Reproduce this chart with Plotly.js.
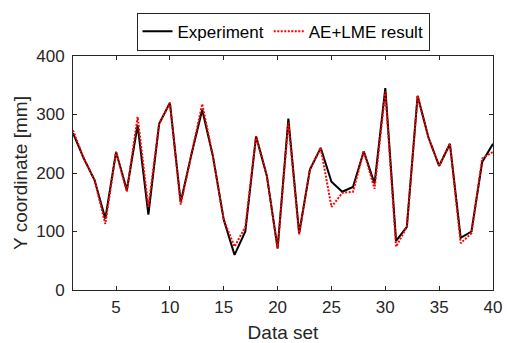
<!DOCTYPE html>
<html>
<head>
<meta charset="utf-8">
<script src="https://cdn.plot.ly/plotly-3.0.1.min.js"></script>
<style>html,body{margin:0;padding:0;background:#fff;}#chart{width:510px;height:343px;}</style>
</head>
<body>
<div id="chart"></div>
<script>
const dataSet = [1,2,3,4,5,6,7,8,9,10,11,12,13,14,15,16,17,18,19,20,21,22,23,24,25,26,27,28,29,30,31,32,33,34,35,36,37,38,39,40];
const experiment = [268,225,188,122,236,171,282,129,284,320,150,232,308,228,120,60,100,263,195,71,293,97,206,243,185,168,176,237,182,345,84,108,332,261,212,250,89,100,219,250];
const aeLme = [273,225,188,113,236,168,296,142,284,320,146,232,318,228,120,74,108,263,195,71,286,95,206,243,142,166,168,237,173,339,74,108,332,261,212,250,80,97,225,236];
const xTicks = [5,10,15,20,25,30,35,40];
const yTicks = [0,100,200,300,400];

const font = 'Liberation Sans, Arial, sans-serif';
const traces = [
  {x: dataSet, y: experiment, type: 'scatter', mode: 'lines', name: 'Experiment',
   line: {color: '#000000', width: 2}},
  {x: dataSet, y: aeLme, type: 'scatter', mode: 'lines', name: 'AE+LME result',
   line: {color: '#ff0000', width: 2, dash: '2px,1.5px'}}
];
const axisCommon = {
  showgrid: false, zeroline: false, showline: true, mirror: 'ticks',
  linecolor: '#262626', linewidth: 1, ticks: 'inside', ticklen: 4, tickcolor: '#262626',
  tickfont: {family: font, size: 17, color: '#262626'}
};
const layout = {
  width: 510, height: 343,
  margin: {l: 73, r: 17, t: 56, b: 53},
  paper_bgcolor: '#ffffff', plot_bgcolor: '#ffffff',
  showlegend: true,
  legend: {orientation: 'h', x: 0.5, xanchor: 'center', y: 1.185, yanchor: 'top',
    bordercolor: '#262626', borderwidth: 1, bgcolor: '#ffffff',
    font: {family: font, size: 17, color: '#000000'}, itemwidth: 30, tracegroupgap: 0},
  xaxis: Object.assign({}, axisCommon, {
    range: [1, 40], tickvals: xTicks, ticktext: xTicks.map(String), ticklabelstandoff: 2,
    title: {text: 'Data set', font: {family: font, size: 19, color: '#262626'}, standoff: 11}
  }),
  yaxis: Object.assign({}, axisCommon, {
    range: [0, 400], tickvals: yTicks, ticktext: yTicks.map(String), ticklabelstandoff: 4,
    title: {text: 'Y coordinate [mm]', font: {family: font, size: 19, color: '#262626'}, standoff: 3}
  })
};
Plotly.newPlot('chart', traces, layout, {displayModeBar: false, staticPlot: true});
</script>
</body>
</html>
